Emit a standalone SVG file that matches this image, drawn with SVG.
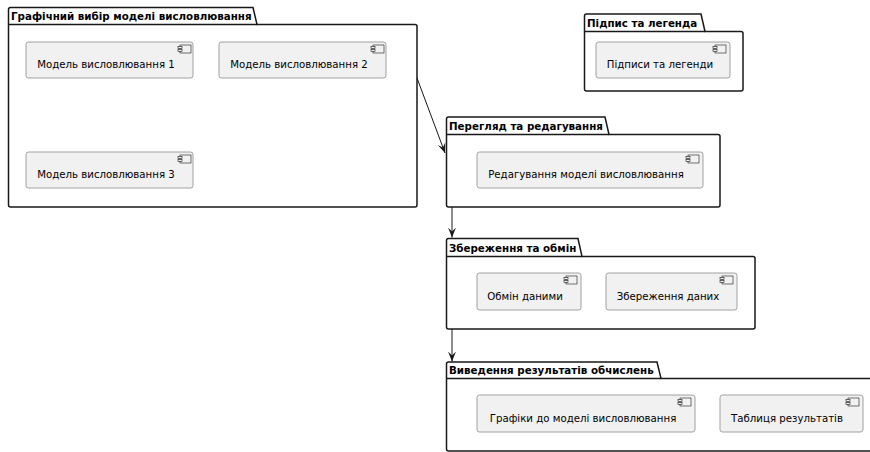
<svg xmlns="http://www.w3.org/2000/svg" width="870" height="452" viewBox="0 0 870 452">
<defs>
<style>
.pkg{fill:#ffffff;stroke:#181818;stroke-width:1.5}
.ptitle{font-family:"DejaVu Sans",sans-serif;font-size:10.3px;font-weight:bold;fill:#000}
.comp{fill:#f1f1f1;stroke:#a0a0a0;stroke-width:1}
.ctext{font-family:"DejaVu Sans",sans-serif;font-size:10.2px;fill:#000;text-anchor:middle}
.icon{fill:#f1f1f1;stroke:#181818;stroke-width:0.6}
.edge{fill:none;stroke:#181818;stroke-width:1}
</style>
<marker id="arr" viewBox="0 0 10 10" refX="10" refY="5" markerWidth="10" markerHeight="10" markerUnits="userSpaceOnUse" orient="auto">
<path d="M0,1 L10,5 L0,9 L4,5 Z" fill="#181818"/>
</marker>
<g id="ic">
<rect class="icon" x="0" y="0" width="11" height="8"/>
<rect class="icon" x="-2" y="1.5" width="4" height="2"/>
<rect class="icon" x="-2" y="4.5" width="4" height="2"/>
</g>
</defs>
<rect width="870" height="452" fill="#ffffff"/>

<g id="pkg-grafichnyi">
<path class="pkg" d="M8.5,24.5 L8.5,9.5 Q8.5,7.5 10.5,7.5 L253,7.5 L257,24.5 L415,24.5 Q417,24.5 417,26.5 L417,205 Q417,207 415,207 L10.5,207 Q8.5,207 8.5,205 Z"/>
<line class="pkg" x1="8.5" y1="24.5" x2="257" y2="24.5"/>
<text class="ptitle" x="11" y="19.5">Графічний вибір моделі висловлювання</text>
</g>
<g id="c-model1">
<rect class="comp" x="26" y="42" width="167" height="36" rx="2.5"/>
<use href="#ic" x="180" y="45"/>
<text class="ctext" x="106" y="68">Модель висловлювання 1</text>
</g>
<g id="c-model2">
<rect class="comp" x="219" y="42" width="167" height="36" rx="2.5"/>
<use href="#ic" x="373" y="45"/>
<text class="ctext" x="299" y="68">Модель висловлювання 2</text>
</g>
<g id="c-model3">
<rect class="comp" x="26" y="152" width="167" height="36" rx="2.5"/>
<use href="#ic" x="180" y="155"/>
<text class="ctext" x="106" y="178">Модель висловлювання 3</text>
</g>

<g id="pkg-pidpys">
<path class="pkg" d="M584.5,31.5 L584.5,16 Q584.5,14 586.5,14 L701,14 L705,31.5 L741,31.5 Q743,31.5 743,33.5 L743,89 Q743,91 741,91 L586.5,91 Q584.5,91 584.5,89 Z"/>
<line class="pkg" x1="584.5" y1="31.5" x2="705" y2="31.5"/>
<text class="ptitle" x="587" y="26.5">Підпис та легенда</text>
</g>
<g id="c-pidpysy">
<rect class="comp" x="596" y="42" width="134" height="36" rx="2.5"/>
<use href="#ic" x="715" y="45"/>
<text class="ctext" x="660" y="68">Підписи та легенди</text>
</g>

<g id="pkg-perehliad">
<path class="pkg" d="M446.5,134.5 L446.5,119 Q446.5,117 448.5,117 L605,117 L609,134.5 L718,134.5 Q720,134.5 720,136.5 L720,205 Q720,207 718,207 L448.5,207 Q446.5,207 446.5,205 Z"/>
<line class="pkg" x1="446.5" y1="134.5" x2="609" y2="134.5"/>
<text class="ptitle" x="449" y="129.5">Перегляд та редагування</text>
</g>
<g id="c-redaguvannia">
<rect class="comp" x="477" y="152" width="226" height="36" rx="2.5"/>
<use href="#ic" x="688" y="155"/>
<text class="ctext" x="586" y="178">Редагування моделі висловлювання</text>
</g>

<g id="pkg-zberezhennia">
<path class="pkg" d="M446.5,256.5 L446.5,240.5 Q446.5,238.5 448.5,238.5 L578,238.5 L582,256.5 L753,256.5 Q755,256.5 755,258.5 L755,327 Q755,329 753,329 L448.5,329 Q446.5,329 446.5,327 Z"/>
<line class="pkg" x1="446.5" y1="256.5" x2="582" y2="256.5"/>
<text class="ptitle" x="449" y="251.5">Збереження та обмін</text>
</g>
<g id="c-obmin">
<rect class="comp" x="477" y="273" width="104" height="37" rx="2.5"/>
<use href="#ic" x="566" y="276"/>
<text class="ctext" x="525" y="300">Обмін даними</text>
</g>
<g id="c-zberezhennia">
<rect class="comp" x="606" y="273" width="131" height="37" rx="2.5"/>
<use href="#ic" x="722" y="276"/>
<text class="ctext" x="668" y="300">Збереження даних</text>
</g>

<g id="pkg-vyvedennia">
<path class="pkg" d="M446.5,378.5 L446.5,364 Q446.5,362 448.5,362 L657,362 L661,378.5 L872,378.5 L872,451 L448.5,451 Q446.5,451 446.5,449 Z"/>
<line class="pkg" x1="446.5" y1="378.5" x2="661" y2="378.5"/>
<text class="ptitle" x="449" y="373.5">Виведення результатів обчислень</text>
</g>
<g id="c-grafiky">
<rect class="comp" x="477" y="395" width="218" height="37" rx="2.5"/>
<use href="#ic" x="680" y="398"/>
<text class="ctext" x="583" y="422">Графіки до моделі висловлювання</text>
</g>
<g id="c-tablytsia">
<rect class="comp" x="720" y="395" width="143" height="37" rx="2.5"/>
<use href="#ic" x="848" y="398"/>
<text class="ctext" x="787" y="422">Таблиця результатів</text>
</g>

<g id="connectors">
<path class="edge" d="M417,78 L445,153" marker-end="url(#arr)"/>
<path class="edge" d="M452,207 L452,237.5" marker-end="url(#arr)"/>
<path class="edge" d="M452,329 L452,361.5" marker-end="url(#arr)"/>
</g>
</svg>
